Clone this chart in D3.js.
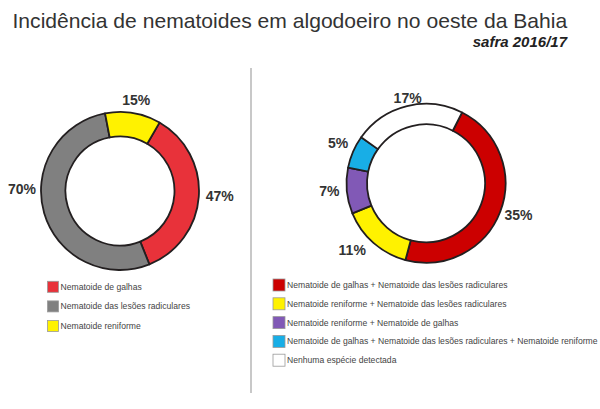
<!DOCTYPE html>
<html><head><meta charset="utf-8">
<script src="https://cdn.jsdelivr.net/npm/d3@7"></script>
<style>
html,body{margin:0;padding:0;background:#fff;}
svg{display:block;}
text{font-family:"Liberation Sans",Arial,sans-serif;}
</style></head>
<body>
<script>
// ---- data ----
const title = "Incidência de nematoides em algodoeiro no oeste da Bahia";
const subtitle = "safra 2016/17";
const leftCategories = ["Nematoide de galhas", "Nematoide das lesões radiculares", "Nematoide reniforme"];
const leftValues = [47, 70, 15];
const rightCategories = [
  "Nematoide de galhas + Nematoide das lesões radiculares",
  "Nematoide reniforme + Nematoide das lesões radiculares",
  "Nematoide reniforme + Nematoide de galhas",
  "Nematoide de galhas + Nematoide das lesões radiculares + Nematoide reniforme",
  "Nenhuma espécie detectada"
];
const rightValues = [35, 11, 7, 5, 17];

// ---- layout / style ----
const W = 600, H = 409;
const leftColors = ["#e8323a", "#808080", "#fff200"];
const rightColors = ["#cc0000", "#fff200", "#8159b6", "#18aee6", "#ffffff"];
const leftChart = {cx:120, cy:191, rOut:79, rIn:54.5, start:30, labelR:98,
  nudges:[[2,-2],[-4,-30],[0,6]]};
const rightChart = {cx:426, cy:183.3, rOut:79.5, rIn:59, start:27, labelR:98,
  nudges:[[1,-3],[-9,-7],[1,-2],[2,-1],[5,10]]};

const svg = d3.select("body").append("svg").attr("width", W).attr("height", H);
svg.append("rect").attr("width", W).attr("height", H).attr("fill", "#fff");

svg.append("text").attr("x", 12.5).attr("y", 28).attr("font-size", 21.1)
  .attr("fill", "#333").text(title);
svg.append("text").attr("x", 567).attr("y", 46.5).attr("font-size", 15)
  .attr("font-weight", "bold").attr("font-style", "italic").attr("text-anchor", "end")
  .attr("fill", "#222").text(subtitle);

svg.append("line").attr("x1", 251).attr("x2", 251).attr("y1", 68).attr("y2", 393)
  .attr("stroke", "#c8c8c8").attr("stroke-width", 2);

function donut(values, colors, cfg) {
  const rad = Math.PI / 180;
  const pie = d3.pie().sort(null).value(d => d)
    .startAngle(cfg.start * rad).endAngle((cfg.start + 360) * rad);
  const arcs = pie(values);
  const arc = d3.arc().innerRadius(cfg.rIn).outerRadius(cfg.rOut);
  const labelArc = d3.arc().innerRadius(cfg.labelR).outerRadius(cfg.labelR);
  const g = svg.append("g").attr("transform", `translate(${cfg.cx},${cfg.cy})`);
  g.selectAll("path").data(arcs).join("path")
    .attr("d", arc).attr("fill", (d, i) => colors[i])
    .attr("stroke", "#231f20").attr("stroke-width", 1.8).attr("stroke-linejoin", "round");
  g.selectAll("text").data(arcs).join("text")
    .attr("x", (d, i) => labelArc.centroid(d)[0] + cfg.nudges[i][0])
    .attr("y", (d, i) => labelArc.centroid(d)[1] + cfg.nudges[i][1])
    .attr("text-anchor", "middle").attr("dominant-baseline", "central")
    .attr("font-size", 14).attr("font-weight", "bold").attr("fill", "#333")
    .text(d => d.data + "%");
}
donut(leftValues, leftColors, leftChart);
donut(rightValues, rightColors, rightChart);

function legend(cats, colors, x, y0, step, box) {
  const g = svg.append("g");
  const rows = g.selectAll("g").data(cats).join("g")
    .attr("transform", (d, i) => `translate(${x},${y0 + i * step})`);
  rows.append("rect").attr("x", 0).attr("y", -box / 2).attr("width", box).attr("height", box)
    .attr("fill", (d, i) => colors[i]).attr("stroke", "#999").attr("stroke-width", 0.8);
  rows.append("text").attr("x", box + 2).attr("y", 0).attr("dominant-baseline", "central")
    .attr("font-size", 8.6).attr("fill", "#444").text(d => d);
}
legend(leftCategories, leftColors, 47.5, 286.8, 19.6, 11);
legend(rightCategories, rightColors, 273, 285, 18.8, 12);
</script>
</body></html>
